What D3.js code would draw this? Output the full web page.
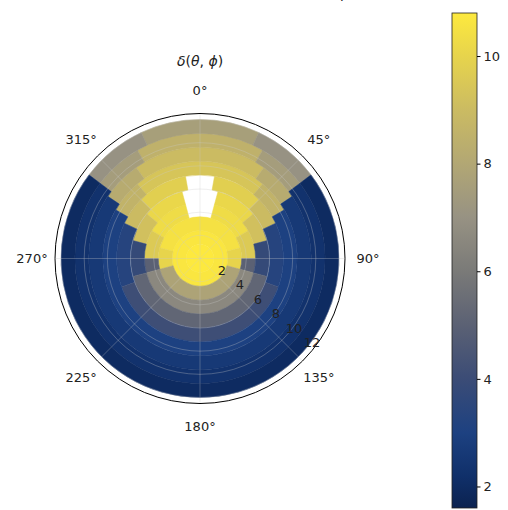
<!DOCTYPE html>
<html><head><meta charset="utf-8">
<script src="https://cdn.jsdelivr.net/npm/d3@7"></script>
<style>body{margin:0;background:#fff}svg{display:block}text{font-family:"DejaVu Sans",sans-serif;fill:#222}</style>
</head><body>
<svg id="c" width="508" height="510"></svg>
<script>
// radial bin edges (data units)
const rEdges = [0,1.2,2.4,3.6,4.8,6.0,7.2,8.4,9.6,10.8,12.0];
// per ring (inner -> outer): runs over half circle [endAngleDeg, value]; mirrored about 0°-180°
const ringRuns = [
  [[180,10.8]],
  [[180,10.7]],
  [[75,10.5],[105,10.0],[180,7.8]],
  [[15,NaN],[60,10.3],[90,9.6],[105,5.0],[180,6.6]],
  [[15,NaN],[50,10.1],[75,9.2],[105,3.8],[180,5.2]],
  [[10,NaN],[45,9.8],[65,9.0],[110,3.3],[180,4.1]],
  [[40,9.4],[60,8.6],[180,3.0]],
  [[35,9.0],[56,8.2],[180,2.6]],
  [[30,8.5],[53,7.5],[180,2.3]],
  [[25,7.6],[53,7.0],[180,2.0]]
];
const rTicks = [2,4,6,8,10,12];
const thetaTicks = [0,45,90,135,180,225,270,315];
const cbTicks = [2,4,6,8,10];
const vMin = 1.6, vMax = 10.8, rMax = 12.52;
// colormap stops (cividis-like, as seen in the picture)
const cmapValues = [1.6, 2.2, 3.0, 4.0, 5.0, 6.0, 7.0, 8.0, 9.0, 10.0, 10.8];
const cmapColors = ["#0b2250","#10306a","#1d4181","#3b4c76","#5b6174","#7a7a78","#979283","#b2a774","#cbbb62","#e7d44c","#fde93e"];

const svg = d3.select("#c");
const cx = 200, cy = 258.5, R = 145;
const r = d3.scaleLinear().domain([0, rMax]).range([0, R]);
const color = d3.scaleLinear().domain(cmapValues).range(cmapColors).interpolate(d3.interpolateRgb).clamp(true);
const toRad = d => d * Math.PI / 180;
const g = svg.append("g").attr("transform", `translate(${cx},${cy})`);

const cells = [];
ringRuns.forEach((runs, i) => {
  let start = 0;
  runs.forEach(([end, v]) => {
    cells.push({i, a0: start, a1: end, v});
    cells.push({i, a0: -end, a1: -start, v});
    start = end;
  });
});
const arc = d3.arc();
g.selectAll("path.cell").data(cells.filter(d => !isNaN(d.v))).join("path")
  .attr("class","cell")
  .attr("d", d => arc({innerRadius: r(rEdges[d.i]), outerRadius: r(rEdges[d.i+1]),
                       startAngle: toRad(d.a0), endAngle: toRad(d.a1)}))
  .attr("fill", d => color(d.v)).attr("stroke", d => color(d.v)).attr("stroke-width", 0.5);

// grid
g.selectAll("circle.grid").data(rTicks).join("circle")
  .attr("r", d => r(d)).attr("fill","none").attr("stroke","#c8c8c8").attr("stroke-opacity",0.4).attr("stroke-width",0.8);
g.selectAll("line.spoke").data(thetaTicks).join("line")
  .attr("x1",0).attr("y1",0)
  .attr("x2", d => R*Math.sin(toRad(d))).attr("y2", d => -R*Math.cos(toRad(d)))
  .attr("stroke","#c8c8c8").attr("stroke-opacity",0.4).attr("stroke-width",0.8);
g.append("circle").attr("r", R).attr("fill","none").attr("stroke","#000").attr("stroke-width",1);

// theta labels
g.selectAll("text.th").data(thetaTicks).join("text")
  .attr("x", d => 168*Math.sin(toRad(d))).attr("y", d => -168*Math.cos(toRad(d)))
  .attr("text-anchor","middle").attr("dominant-baseline","central").attr("font-size",13)
  .text(d => d + "°");
// r labels
const rLabAng = toRad(129);
g.selectAll("text.rl").data(rTicks).join("text")
  .attr("x", d => r(d)*Math.sin(rLabAng)+4).attr("y", d => -r(d)*Math.cos(rLabAng)-3)
  .attr("text-anchor","middle").attr("dominant-baseline","central").attr("font-size",13)
  .text(d => d);

// title
function mathTitle(x, y) {
  const t = svg.append("text").attr("x", x).attr("y", y).attr("text-anchor","middle").attr("font-size",14);
  t.append("tspan").attr("font-style","italic").text("δ");
  t.append("tspan").text("(");
  t.append("tspan").attr("font-style","italic").text("θ");
  t.append("tspan").text(", ");
  t.append("tspan").attr("font-style","italic").text("ϕ");
  t.append("tspan").text(")");
  return t;
}
mathTitle(200, 66);
mathTitle(330, -2);

// colorbar
const cbx = 452, cbw = 25, cbTop = 13, cbBot = 508;
const cy2 = d3.scaleLinear().domain([vMin, vMax]).range([cbBot, cbTop]);
const defs = svg.append("defs");
const grad = defs.append("linearGradient").attr("id","cb").attr("x1",0).attr("y1",1).attr("x2",0).attr("y2",0);
cmapValues.forEach(v => grad.append("stop").attr("offset", (v - vMin)/(vMax - vMin)).attr("stop-color", color(v)));
svg.append("rect").attr("x",cbx).attr("y",cbTop).attr("width",cbw).attr("height",cbBot-cbTop)
  .attr("fill","url(#cb)").attr("stroke","#222").attr("stroke-width",0.8);
const ax = svg.append("g").attr("transform",`translate(${cbx+cbw},0)`)
  .call(d3.axisRight(cy2).tickValues(cbTicks).tickSize(3.5).tickPadding(3));
ax.select(".domain").remove();
ax.selectAll("text").attr("font-size",13).style("font-family","DejaVu Sans").attr("fill","#222");
</script>
</body></html>
